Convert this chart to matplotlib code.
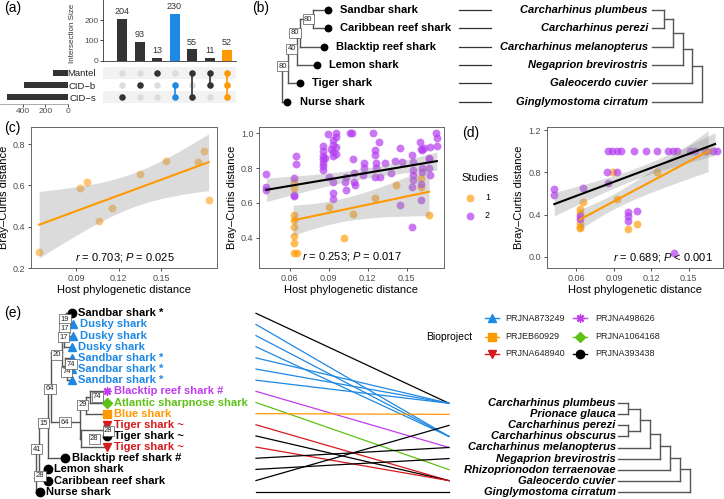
import numpy as np
import matplotlib
matplotlib.use("Agg")
import matplotlib.pyplot as plt

plt.rcParams['font.family'] = ['Liberation Sans', 'DejaVu Sans']
plt.rcParams['mathtext.fontset'] = 'custom'
plt.rcParams['mathtext.rm'] = 'Liberation Sans'
plt.rcParams['mathtext.it'] = 'Liberation Sans:italic'

W, H = 724, 499

# ---------------- data ----------------
# (a) upset
set_names = ['Mantel', 'CID\u2212b', 'CID\u2212s']
inter_sizes = [204, 93, 13, 230, 55, 11, 52]
inter_sets = [[2], [1], [0], [1, 2], [0, 2], [0, 1], [0, 1, 2]]
inter_cols = ['#333333', '#333333', '#333333', '#1E88E5', '#333333', '#333333', '#FF9900']

# (b) trees
b_common = ['Sandbar shark', 'Caribbean reef shark', 'Blacktip reef shark',
            'Lemon shark', 'Tiger shark', 'Nurse shark']
b_species = ['Carcharhinus plumbeus', 'Carcharhinus perezi', 'Carcharhinus melanopterus',
             'Negaprion brevirostris', 'Galeocerdo cuvier', 'Ginglymostoma cirratum']
b_tip_x = [328, 328, 324, 316.7, 300, 287]
b_nodes = [(313.3, [0, 1]), (300, [6, 2]), (296.7, [7, 3]), (287.7, [8, 4]), (282.3, [9, 5])]
b_boot = ['80', '80', '40', '80', '']
b_right_nodes = [(664.3, [0, 1]), (673.3, [6, 2]), (682.7, [7, 3]), (691.7, [8, 4]), (701.7, [9, 5])]

# (c) left: single study
c1_x = [0.064, 0.093, 0.0976, 0.1065, 0.1157, 0.1349, 0.1536, 0.176, 0.180, 0.1836]
c1_y = [0.277, 0.587, 0.616, 0.430, 0.493, 0.655, 0.721, 0.713, 0.768, 0.530]
c1_fit = (0.064, 0.41, 0.1836, 0.713)

# (c) right: two studies
c2_s1_x = [0.0637, 0.0637, 0.0637, 0.0637, 0.0637, 0.0637, 0.0637, 0.0637, 0.0655,
           0.0905, 0.1018, 0.1090, 0.1256, 0.1414, 0.1610, 0.1610, 0.1670]
c2_s1_y = [0.722, 0.684, 0.530, 0.500, 0.463, 0.410, 0.370, 0.310, 0.310,
           0.575, 0.400, 0.536, 0.626, 0.703, 0.741, 0.690, 0.530]
c2_s2_x = [0.0423, 0.0423, 0.0423, 0.0635, 0.0635, 0.0635, 0.0650, 0.0650,
           0.0860, 0.0860, 0.0860, 0.0860, 0.0860, 0.0860, 0.0860, 0.0870,
           0.0898, 0.0930, 0.0930, 0.0920, 0.0935, 0.0935, 0.0960, 0.0960, 0.0960, 0.0960,
           0.0905, 0.0936, 0.0936, 0.0936,
           0.1064, 0.1077, 0.1085, 0.1026, 0.1030, 0.1030, 0.1095, 0.1095, 0.1100,
           0.1166, 0.1174, 0.1174,
           0.1240, 0.1256, 0.1256, 0.1260, 0.1260, 0.1256, 0.1294, 0.1290,
           0.1330, 0.1380, 0.1410, 0.1447, 0.1460, 0.1447,
           0.1537, 0.1550, 0.1545, 0.1545, 0.1545, 0.1540, 0.1542,
           0.1600, 0.1610, 0.1620, 0.1630, 0.1615, 0.1615, 0.1606, 0.1606,
           0.1677, 0.1670, 0.1670, 0.1670, 0.1677,
           0.1723, 0.1730, 0.1730]
c2_s2_y = [0.764, 0.690, 0.672, 0.741, 0.640, 0.645, 0.870, 0.822,
           0.927, 0.900, 0.870, 0.850, 0.830, 0.810, 0.790, 0.860,
           0.996, 0.960, 0.930, 0.910, 0.890, 0.870, 1.000, 0.977, 0.920, 0.880,
           0.751, 0.720, 0.655, 0.620,
           1.000, 1.000, 0.850, 0.722, 0.675, 0.750, 0.770, 0.720, 0.700,
           0.760, 0.828, 0.800,
           1.000, 0.904, 0.875, 0.830, 0.800, 0.750, 0.750, 0.952,
           0.830, 0.770, 0.843, 0.914, 0.837, 0.588,
           0.875, 0.837, 0.790, 0.760, 0.730, 0.693, 0.460,
           0.952, 0.910, 0.905, 0.915, 0.780, 0.800, 0.710, 0.617,
           0.923, 0.860, 0.850, 0.800, 0.760,
           1.000, 0.970, 0.925]
c2_fit1 = (0.0629, 0.500, 0.167, 0.664)
c2_fit2 = (0.0423, 0.675, 0.173, 0.840)

# (d)
d_s1_x = [0.0629, 0.0629, 0.0629, 0.0629, 0.0629, 0.0650, 0.0890, 0.0927, 0.1010,
          0.1083, 0.1248, 0.1654]
d_s1_y = [0.45, 0.42, 0.32, 0.28, 0.27, 0.523, 0.80, 0.548, 0.265, 0.309, 0.80, 1.0]
d_s2_x = [0.0423, 0.0423, 0.0650, 0.0629, 0.0629,
          0.0853, 0.0885, 0.0923, 0.0957, 0.1061, 0.1157, 0.1245, 0.1333, 0.1373,
          0.1405, 0.1509, 0.1549, 0.1629, 0.1694, 0.1725,
          0.0847, 0.0927, 0.0855, 0.1016, 0.1016, 0.1016, 0.1083, 0.1380]
d_s2_y = [0.64, 0.586, 0.65, 0.388, 0.36,
          1.0, 1.0, 1.0, 1.0, 1.0, 1.0, 1.0, 1.0, 1.0,
          1.0, 1.0, 1.0, 1.0, 1.0, 1.0,
          0.80, 0.80, 0.696, 0.428, 0.387, 0.34, 0.437, 0.035]
d_fit1 = (0.0629, 0.356, 0.1654, 1.000)
d_fit2 = (0.0423, 0.500, 0.1710, 1.068)

# (e) trees
e_tips = ['Sandbar shark *', 'Dusky shark', 'Dusky shark', 'Dusky shark',
          'Sandbar shark *', 'Sandbar shark *', 'Sandbar shark *',
          'Blacktip reef shark #', 'Atlantic sharpnose shark', 'Blue shark',
          'Tiger shark ~', 'Tiger shark ~', 'Tiger shark ~', 'Blacktip reef shark #',
          'Lemon shark', 'Caribbean reef shark', 'Nurse shark']
e_proj = ['PRJNA393438', 'PRJNA873249', 'PRJNA873249', 'PRJNA873249',
          'PRJNA873249', 'PRJNA873249', 'PRJNA873249',
          'PRJNA498626', 'PRJNA1064168', 'PRJEB60929',
          'PRJNA648940', 'PRJNA393438', 'PRJNA648940', 'PRJNA393438',
          'PRJNA393438', 'PRJNA393438', 'PRJNA393438']
e_tip_x = [72, 73, 73, 71.5, 71.5, 71.5, 71.5, 107.3, 107.3, 107.3, 107.3, 107.3, 107.3,
           65, 47.7, 47.7, 40]
e_nodes = [(66, [0, 1]), (65, [17, 2]), (64, [18, 3]), (67, [5, 6]), (65, [4, 20]),
           (62, [19, 21]), (90, [7, 8]), (86, [23, 9]), (104, [10, 11]), (81, [25, 12]),
           (80, [24, 26]), (51, [22, 27]), (48, [28, 13]), (44, [14, 15]), (39, [29, 30]),
           (36, [31, 16])]
e_boot = [('19', 65, 319.3), ('17', 64.3, 328.3), ('17', 63.3, 337.3), ('74', 66.7, 371.7),
          ('74', 71, 364.3), ('20', 56.7, 355), ('74', 97.3, 396.7), ('29', 82.7, 405),
          ('28', 108.3, 431), ('28', 94.3, 439), ('64', 65, 422.3), ('64', 50, 389),
          ('15', 43.3, 423.3), ('28', 40, 475.7), ('41', 36.7, 449.3)]
e_species = ['Carcharhinus plumbeus', 'Prionace glauca', 'Carcharhinus perezi',
             'Carcharhinus obscurus', 'Carcharhinus melanopterus', 'Negaprion brevirostris',
             'Rhizoprionodon terraenovae', 'Galeocerdo cuvier', 'Ginglymostoma cirratum']
e_link = [0, 3, 3, 3, 0, 0, 0, 4, 6, 1, 7, 7, 7, 4, 5, 2, 8]
e_right_nodes = [(628.3, [0, 1]), (628.3, [2, 3]), (640, [9, 10]), (650, [11, 4]),
                 (660, [12, 5]), (670, [13, 6]), (680, [14, 7]), (690, [15, 8])]

projects = ['PRJNA873249', 'PRJEB60929', 'PRJNA648940', 'PRJNA498626', 'PRJNA1064168', 'PRJNA393438']
proj_col = {'PRJNA873249': '#1E88E5', 'PRJEB60929': '#FF9900', 'PRJNA648940': '#D7191C',
            'PRJNA498626': '#C13CF0', 'PRJNA1064168': '#5DC215', 'PRJNA393438': '#000000'}
proj_mk = {'PRJNA873249': '^', 'PRJEB60929': 's', 'PRJNA648940': 'v',
           'PRJNA498626': (8, 2, 0), 'PRJNA1064168': 'D', 'PRJNA393438': 'o'}

ORANGE = '#FF9900'
PURPLE = '#B43CF2'


def px(x0, y0, x1, y1):
    return [x0 / W, 1 - y1 / H, (x1 - x0) / W, (y1 - y0) / H]


def tq(df):
    z = 1.959964
    return z + (z ** 3 + z) / (4 * df) + (5 * z ** 5 + 16 * z ** 3 + 3 * z) / (96 * df ** 2)


def smooth(ax, x, y, color, fit, widen=1.0):
    # line, band from the residuals of the points around it
    x = np.asarray(x); y = np.asarray(y)
    x0, y0, x1, y1 = fit
    b = (y1 - y0) / (x1 - x0)
    a = y0 - b * x0
    n = len(x)
    xs = np.linspace(x0, x1, 100)
    yh = a + b * xs
    s = np.sqrt(np.sum((y - a - b * x) ** 2) / (n - 2))
    se = s * np.sqrt(1 / n + (xs - x.mean()) ** 2 / np.sum((x - x.mean()) ** 2))
    hw = tq(n - 2) * se * widen
    ax.fill_between(xs, yh - hw, yh + hw, color='#999999', alpha=0.35, lw=0, zorder=3)
    ax.plot(xs, yh, color=color, lw=1.5, zorder=4)


def style_scatter(ax, xlim, ylim, yticks):
    ax.set_xlim(*xlim)
    ax.set_ylim(*ylim)
    ax.set_xticks([0.06, 0.09, 0.12, 0.15])
    ax.set_xticklabels(['0.06', '0.09', '0.12', '0.15'])
    ax.set_yticks(yticks)
    ax.set_yticklabels(['%.1f' % v for v in yticks])
    ax.tick_params(labelsize=6.5, labelcolor='#4D4D4D', length=2.5, width=0.6,
                   color='#333333', pad=1.5)
    for sp in ax.spines.values():
        sp.set_color('#666666')
        sp.set_linewidth(0.7)
    ax.set_xlabel('Host phylogenetic distance', fontsize=8, labelpad=2)
    ax.set_ylabel('Bray\u2013Curtis distance', fontsize=8, labelpad=3)


def draw_tree(ax, tip_x, tip_y, nodes, color='#555555', lw=1.0):
    pos = [(x, y) for x, y in zip(tip_x, tip_y)]
    for x, kids in nodes:
        ys = [pos[k][1] for k in kids]
        y = np.mean(ys)
        ax.plot([x, x], [min(ys), max(ys)], color=color, lw=lw, solid_capstyle='projecting')
        for k in kids:
            ax.plot([x, pos[k][0]], [pos[k][1], pos[k][1]], color=color, lw=lw,
                    solid_capstyle='projecting')
        pos.append((x, y))
    return pos


def boot_label(ax, txt, x, y):
    ax.text(x, y, txt, fontsize=5.5, ha='center', va='center', color='#222222',
            bbox=dict(boxstyle='square,pad=0.18', fc='white', ec='#555555', lw=0.5), zorder=6)


fig = plt.figure(figsize=(W / 100, H / 100), dpi=100)

ov = fig.add_axes([0, 0, 1, 1])
ov.set_xlim(0, W)
ov.set_ylim(H, 0)
ov.axis('off')

# ---------------- (a) upset ----------------
xl = (-1.086, 6.51)
bar_ax = fig.add_axes(px(103, 0, 236, 60.5))
xi = np.arange(len(inter_sizes))
bar_ax.bar(xi, inter_sizes, width=0.57, color=inter_cols)
for i, v in enumerate(inter_sizes):
    bar_ax.annotate(str(v), (i, v), xytext=(0, 2), textcoords='offset points',
                    ha='center', va='bottom', fontsize=6.5, color='#333333')
bar_ax.set_xlim(*xl)
bar_ax.set_ylim(0, 299)
bar_ax.set_xticks([])
bar_ax.set_yticks([0, 100, 200])
bar_ax.tick_params(labelsize=6, labelcolor='#4D4D4D', length=2, width=0.5, pad=1)
bar_ax.spines[['top', 'right']].set_visible(False)
for sp in ['left', 'bottom']:
    bar_ax.spines[sp].set_linewidth(0.6)
    bar_ax.spines[sp].set_color('#333333')
bar_ax.set_ylabel('Intersection Size', fontsize=5.8, color='#333333')
bar_ax.yaxis.set_label_coords(-0.2, 0.45)

mat_ax = fig.add_axes(px(103, 66, 236, 104))
rows = {0: 2, 1: 1, 2: 0}
for r in [0, 2]:
    mat_ax.axhspan(r - 0.5, r + 0.5, color='#F2F2F2', lw=0, zorder=0)
for i, members in enumerate(inter_sets):
    col = inter_cols[i]
    mat_ax.scatter([i] * 3, [0, 1, 2], s=22, color='#DDDDDD', lw=0, zorder=1)
    ys = [rows[m] for m in members]
    if len(ys) > 1:
        mat_ax.plot([i, i], [min(ys), max(ys)], color=col, lw=1.2, zorder=2)
    mat_ax.scatter([i] * len(ys), ys, s=22, color=col, lw=0, zorder=3)
mat_ax.set_xlim(*xl)
mat_ax.set_ylim(-0.583, 2.583)
mat_ax.set_xticks([])
mat_ax.set_yticks([rows[k] for k in range(3)])
mat_ax.set_yticklabels(set_names, fontsize=6.8, color='#222222')
mat_ax.tick_params(length=0, pad=5)
for sp in mat_ax.spines.values():
    sp.set_visible(False)

set_sizes = [sum(v for v, m in zip(inter_sizes, inter_sets) if k in m) for k in range(3)]
set_ax = fig.add_axes(px(0, 66, 68, 104))
set_ax.barh([rows[k] for k in range(3)], set_sizes, height=0.45, color='#333333')
set_ax.set_xlim(600, 0)
set_ax.set_ylim(-0.583, 2.583)
set_ax.set_yticks([])
set_ax.set_xticks([0, 200, 400])
set_ax.tick_params(labelsize=6, labelcolor='#4D4D4D', length=2, width=0.5, pad=1)
for sp in ['top', 'right', 'left']:
    set_ax.spines[sp].set_visible(False)
set_ax.spines['bottom'].set_linewidth(0.5)
set_ax.spines['bottom'].set_color('#888888')

# ---------------- (b) ----------------
b_y = [10 + 18.35 * i for i in range(6)]
pos = draw_tree(ov, b_tip_x, b_y, b_nodes)
ov.scatter(b_tip_x, b_y, s=32, color='black', zorder=5, lw=0)
for k, t in enumerate(b_boot):
    if t:
        nx, ny = pos[6 + k]
        boot_label(ov, t, nx - 5, ny)
for x, y, t in zip(b_tip_x, b_y, b_common):
    ov.text(x + 12.5, y, t, fontsize=8, fontweight='bold', va='center', ha='left')
for y in b_y:
    ov.plot([459, 491], [y, y], color='#333333', lw=0.9)
for y, t in zip(b_y, b_species):
    ov.text(648, y, t, fontsize=8, fontweight='bold', style='italic', va='center', ha='right')
draw_tree(ov, [652] * 6, b_y, b_right_nodes)

# ---------------- (c) ----------------
c1 = fig.add_axes(px(31, 127, 217, 268))
c1.scatter(c1_x, c1_y, s=32, color=ORANGE, alpha=0.55, lw=0, zorder=2)
smooth(c1, c1_x, c1_y, ORANGE, c1_fit)
style_scatter(c1, (0.0582, 0.1895), (0.2, 0.8836), [0.2, 0.4, 0.6, 0.8])
c1.set_xticks([0.09, 0.12, 0.15])
c1.set_xticklabels(['0.09', '0.12', '0.15'])
c1.text(0.505, 0.075, r'$r$ = 0.703; $P$ = 0.025', transform=c1.transAxes,
        ha='center', va='center', fontsize=8)

c2 = fig.add_axes(px(259, 127, 444, 268))
c2.scatter(c2_s1_x, c2_s1_y, s=32, color=ORANGE, alpha=0.65, lw=0, zorder=2)
c2.scatter(c2_s2_x, c2_s2_y, s=32, color=PURPLE, alpha=0.7, lw=0, zorder=2)
smooth(c2, c2_s1_x, c2_s1_y, ORANGE, c2_fit1)
smooth(c2, c2_s2_x, c2_s2_y, 'black', c2_fit2)
style_scatter(c2, (0.0366, 0.1785), (0.2259, 1.036), [0.4, 0.6, 0.8, 1.0])
c2.text(0.501, 0.08, r'$r$ = 0.253; $P$ = 0.017', transform=c2.transAxes,
        ha='center', va='center', fontsize=8)

# studies legend
ov.text(461.5, 178, 'Studies', fontsize=8, ha='left', va='center')
for yy, col, al, lab in [(197.7, ORANGE, 0.65, '1'), (215.7, PURPLE, 0.7, '2')]:
    ov.scatter([469.5], [yy], s=32, color=col, alpha=al, lw=0)
    ov.text(485, yy, lab, fontsize=6.5, ha='left', va='center')

# ---------------- (d) ----------------
d = fig.add_axes(px(546.7, 127, 722.7, 268))
d.scatter(d_s1_x, d_s1_y, s=32, color=ORANGE, alpha=0.65, lw=0, zorder=2)
d.scatter(d_s2_x, d_s2_y, s=32, color=PURPLE, alpha=0.7, lw=0, zorder=2)
smooth(d, d_s1_x, d_s1_y, ORANGE, d_fit1, widen=0.6)
smooth(d, d_s2_x, d_s2_y, 'black', d_fit2, widen=0.5)
style_scatter(d, (0.0362, 0.1771), (-0.104, 1.229), [0.0, 0.4, 0.8, 1.2])
d.text(0.66, 0.078, r'$r$ = 0.689; $P$ < 0.001', transform=d.transAxes,
       ha='center', va='center', fontsize=8)

# ---------------- (e) ----------------
e_y = [313.3 + 11.15 * i for i in range(len(e_tips))]
draw_tree(ov, e_tip_x, e_y, e_nodes)
for t, bx, by in e_boot:
    boot_label(ov, t, bx, by)
for x, y, t, p in zip(e_tip_x, e_y, e_tips, e_proj):
    c = proj_col[p]
    ov.plot([x], [y], marker=proj_mk[p], color=c, ms=6 if p != 'PRJNA1064168' else 5,
            mew=1.0, zorder=5, ls='none')
    ov.text(x + 6.5, y, t, fontsize=8, fontweight='bold', color=c, va='center', ha='left')

er_y = [403.3 + 11.05 * i for i in range(len(e_species))]
for i, j in enumerate(e_link):
    ov.plot([256, 449], [e_y[i], er_y[j]], color=proj_col[e_proj[i]], lw=0.9)
for y, t in zip(er_y, e_species):
    ov.text(615.7, y, t, fontsize=8, fontweight='bold', style='italic', va='center', ha='right')
draw_tree(ov, [618] * len(e_species), er_y, e_right_nodes)

# bioproject legend
ov.text(426.5, 336.7, 'Bioproject', fontsize=7.5, ha='left', va='center')
leg_x = [(491.7, 505), (491.7, 505), (491.7, 505), (580, 595), (580, 595), (580, 595)]
leg_y = [318.3, 336.7, 354, 318.3, 336.7, 354]
for p, (mx, tx), ly in zip(projects, leg_x, leg_y):
    c = proj_col[p]
    ov.plot([mx - 7, mx + 7], [ly, ly], color=c, lw=1.0)
    ov.plot([mx], [ly], marker=proj_mk[p], color=c, ms=6 if p != 'PRJNA1064168' else 5,
            mew=1.0, ls='none')
    ov.text(tx, ly, p, fontsize=6.5, ha='left', va='center', color='#222222')

# panel letters
for lab, x, y in [('(a)', 4, 1), ('(b)', 252, 1), ('(c)', 4, 121), ('(d)', 462, 126), ('(e)', 4, 306)]:
    ov.text(x, y, lab, fontsize=10, ha='left', va='top')

fig.savefig('out.png', dpi=100)
